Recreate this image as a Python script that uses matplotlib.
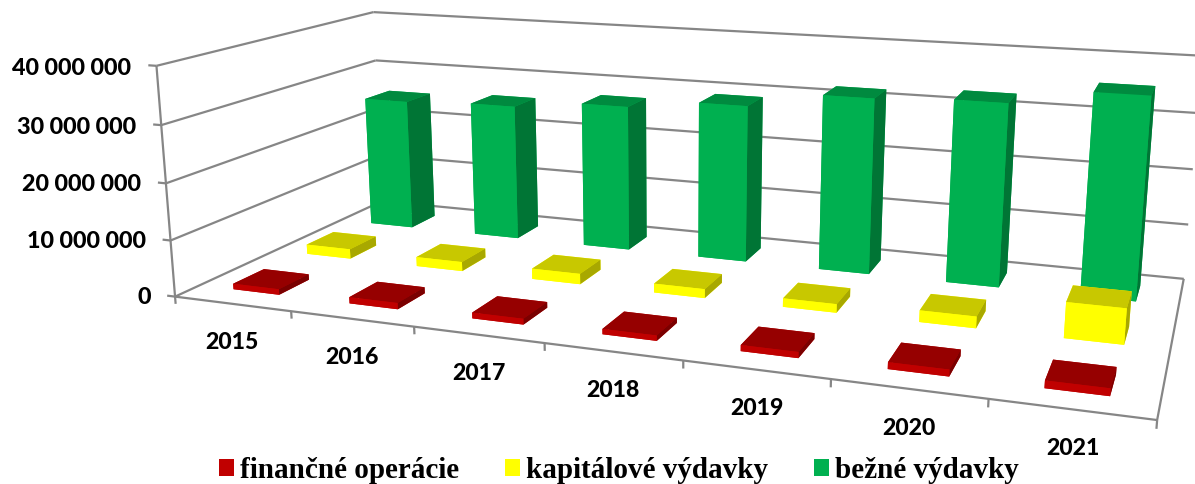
"""3D column chart of budget spending, camera fitted to the axis corners."""

import matplotlib

matplotlib.use("Agg")
import matplotlib.pyplot as plt
import numpy as np
from matplotlib.patches import Patch
from mpl_toolkits.mplot3d import proj3d
from mpl_toolkits.mplot3d.art3d import Line3DCollection

years = ["2015", "2016", "2017", "2018", "2019", "2020", "2021"]
financne = [1000000, 1100000, 1000000, 900000, 1000000, 1100000, 1200000]
kapitalove = [1800000, 1700000, 1900000, 1600000, 1500000, 2000000, 6000000]
bezne = [25300000, 25900000, 27400000, 29100000, 32000000, 32700000, 35500000]
value_ticks = [0, 10000000, 20000000, 30000000, 40000000]
value_labels = ["0", "10 000 000", "20 000 000", "30 000 000", "40 000 000"]
series_names = ["finančné operácie", "kapitálové výdavky", "bežné výdavky"]

WIDTH, HEIGHT = 1195, 484
BAR = 0.4
GRID = "#868686"

# (front, top, side) for each series
COLORS = [
    ("#C00000", "#960000", "#7A0000"),
    ("#FFFF00", "#C8C800", "#A8A800"),
    ("#00B050", "#008A3F", "#007535"),
]

# category, series, millions -> pixel
CALIBRATION = [
    (0, 0, 0, 176, 295), (0, 0, 10, 170.7, 240), (0, 0, 20, 165.7, 182.7),
    (0, 0, 30, 160.7, 124.7), (0, 0, 40, 156, 65.7),
    (0, 3, 40, 374, 12.3), (0, 3, 30, 376, 61), (0, 3, 0, 381, 201),
    (7, 3, 0, 1184, 278.3), (7, 3, 10, 1188.4, 224), (7, 3, 40, 1202, 56),
    (7, 0, 0, 1157, 420),
    (1, 0, 0, 291.7, 311.7), (2, 0, 0, 414.3, 328.3), (3, 0, 0, 544.3, 345),
    (6, 0, 0, 988.3, 398.3),
]


def fit_camera(points):
    """DLT fit of a 4x4 projection, depth grows away from the viewer."""
    rows = []
    for x, y, z, u, v in points:
        p = [x, y, z, 1]
        rows.append(p + [0, 0, 0, 0] + [-u * c for c in p])
        rows.append([0, 0, 0, 0] + p + [-v * c for c in p])
    p = np.linalg.svd(np.array(rows))[2][-1].reshape(3, 4)
    w_front = p[2] @ [0, 0, 0, 1]
    p = p / w_front
    depth = p[2] - np.array([0, 0, 0, 0.5])
    return np.vstack([p[0], p[1], depth, p[2]])


def label(x, y, z, text, **kwargs):
    # plain figure text, placed through the same camera as the bars
    u, v, _ = proj3d.proj_transform(x, y, z, camera)
    fig.text(u / WIDTH, 1 - v / HEIGHT, text, family="Lato", weight=900, color="black", va="center", **kwargs)


fig = plt.figure(figsize=(WIDTH / 100, HEIGHT / 100), dpi=100)
ax = fig.add_axes([0, 0, 1, 1], projection="3d", computed_zorder=False)
camera = fit_camera(CALIBRATION)
ax.get_proj = lambda: camera
ax.apply_aspect = lambda position=None: None
ax.set_axis_off()

top = value_ticks[-1] / 1e6
segments = [
    [(0, 0, 0), (0, 0, top)],
    [(0, 0, 0), (7, 0, 0)],
    [(7, 0, 0), (7, 3, 0)],
]
for tick in value_ticks:
    level = tick / 1e6
    segments.append([(0, 3, level), (7, 3, level)])
    segments.append([(0, 0, level), (0, 3, level)])
    segments.append([(-0.07, 0, level), (0, 0, level)])
for i in range(len(years) + 1):
    segments.append([(i, 0, 0), (i, 0, -1.3)])
ax.add_collection3d(Line3DCollection(segments, colors=GRID, linewidths=1.6, zorder=1))

# back row first so the front rows cover it
for row, values in reversed(list(enumerate([financne, kapitalove, bezne]))):
    front, roof, side = COLORS[row]
    for i, value in enumerate(values):
        ax.bar3d(i + 0.5 - BAR / 2, row + 0.5 - BAR / 2, 0, BAR, BAR, value / 1e6,
                 color=[front, roof, front, front, front, side],
                 shade=False, linewidth=0, zorder=10 - row)

for tick, text in zip(value_ticks, value_labels):
    label(-0.22, 0, tick / 1e6 - 0.7, text, ha="right", fontsize=16.8)
for i, year in enumerate(years):
    # labels sit a little closer to the axis towards the right
    label(i + 0.475 + 0.008 * i, 0, -6.9 + 0.17 * i, year, ha="center", fontsize=16.6)

handles = [Patch(facecolor=c[0], edgecolor="none") for c in COLORS]
fig.legend(handles, series_names, ncol=3, loc="center", bbox_to_anchor=(619 / WIDTH, 1 - 470 / HEIGHT),
           frameon=False, handlelength=0.52, handleheight=0.52, handletextpad=0.2,
           columnspacing=1.58, borderpad=0, prop={"family": "Liberation Serif", "weight": "bold", "size": 21})

ax.viewLim.intervalx = (0, WIDTH)
ax.viewLim.intervaly = (HEIGHT, 0)
fig.savefig("out.png", dpi=100)
